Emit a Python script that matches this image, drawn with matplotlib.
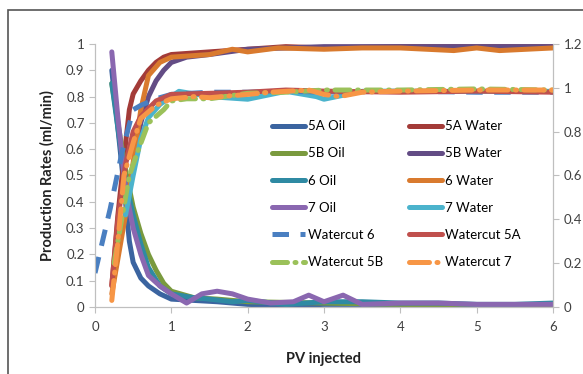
import numpy as np
import matplotlib.pyplot as plt
from matplotlib.patches import Rectangle

plt.rcParams['font.family'] = ['Lato', 'DejaVu Sans']

# oil rates (left axis)
x_5a_oil = [0.22, 0.3, 0.4, 0.45, 0.5, 0.6, 0.7, 0.85, 1.0, 1.3, 1.6, 2.0, 2.5, 3.0, 4.0, 5.0, 6.0]
y_5a_oil = [0.90, 0.68, 0.40, 0.25, 0.17, 0.11, 0.08, 0.05, 0.03, 0.025, 0.02, 0.01, 0.005, 0.01, 0.01, 0.005, 0.01]
x_5b_oil = [0.22, 0.3, 0.4, 0.5, 0.6, 0.7, 0.8, 0.9, 1.0, 1.3, 1.6, 2.0, 3.0, 4.0, 5.0, 6.0]
y_5b_oil = [0.85, 0.70, 0.52, 0.38, 0.28, 0.20, 0.14, 0.09, 0.06, 0.035, 0.03, 0.02, 0.015, 0.01, 0.005, 0.005]
x_6_oil = [0.22, 0.3, 0.4, 0.5, 0.6, 0.7, 0.85, 1.0, 1.3, 1.5, 1.8, 2.0, 2.5, 3.0, 3.5, 4.0, 4.5, 5.0, 5.5, 6.0]
y_6_oil = [0.85, 0.68, 0.48, 0.35, 0.24, 0.15, 0.08, 0.05, 0.035, 0.03, 0.02, 0.025, 0.01, 0.02, 0.02, 0.015, 0.015, 0.01, 0.01, 0.015]
x_7_oil = [0.22, 0.3, 0.4, 0.5, 0.6, 0.7, 0.85, 1.0, 1.2, 1.4, 1.6, 1.8, 2.0, 2.3, 2.6, 2.8, 3.0, 3.25, 3.5, 4.0, 4.5, 5.0, 5.5, 6.0]
y_7_oil = [0.97, 0.72, 0.45, 0.30, 0.20, 0.12, 0.08, 0.05, 0.015, 0.05, 0.06, 0.05, 0.03, 0.015, 0.02, 0.045, 0.02, 0.045, 0.01, 0.015, 0.015, 0.01, 0.01, 0.01]

# water rates (left axis)
x_5a_wat = [0.22, 0.3, 0.4, 0.45, 0.5, 0.6, 0.7, 0.8, 0.9, 1.0, 1.5, 2.0, 2.5, 3.0, 4.0, 5.0, 6.0]
y_5a_wat = [0.08, 0.35, 0.62, 0.75, 0.81, 0.86, 0.90, 0.93, 0.95, 0.96, 0.97, 0.98, 0.99, 0.985, 0.99, 0.99, 0.99]
x_5b_wat = [0.45, 0.55, 0.6, 0.7, 0.8, 0.9, 1.0, 1.2, 1.5, 2.0, 2.5, 3.0, 4.0, 5.0, 6.0]
y_5b_wat = [0.45, 0.62, 0.70, 0.80, 0.86, 0.90, 0.93, 0.95, 0.96, 0.98, 0.985, 0.99, 0.99, 0.99, 0.99]
x_6_wat = [0.22, 0.4, 0.5, 0.6, 0.7, 0.85, 1.0, 1.5, 1.8, 2.0, 2.4, 3.0, 3.5, 4.0, 4.7, 5.0, 5.3, 6.0]
y_6_wat = [0.05, 0.35, 0.55, 0.75, 0.88, 0.93, 0.95, 0.96, 0.98, 0.97, 0.985, 0.98, 0.985, 0.985, 0.975, 0.985, 0.975, 0.985]
x_7_wat = [0.4, 0.5, 0.6, 0.7, 0.85, 1.0, 1.1, 1.5, 2.0, 2.5, 2.9, 3.0, 3.5, 4.0, 5.0, 6.0]
y_7_wat = [0.35, 0.50, 0.64, 0.72, 0.77, 0.80, 0.82, 0.80, 0.79, 0.82, 0.80, 0.79, 0.82, 0.82, 0.82, 0.82]

# watercut (right axis)
x_wc6 = [0.0, 0.2, 0.35, 0.5, 0.6, 0.8, 1.0, 1.5, 2.0, 2.5, 3.0, 4.0, 5.0, 6.0]
y_wc6 = [0.155, 0.45, 0.70, 0.90, 0.92, 0.95, 0.97, 0.98, 0.98, 0.985, 0.98, 0.985, 0.98, 0.98]
x_wc5a = [0.22, 0.3, 0.4, 0.5, 0.6, 0.8, 1.0, 1.5, 2.0, 2.5, 3.0, 4.0, 5.0, 6.0]
y_wc5a = [0.10, 0.40, 0.65, 0.80, 0.87, 0.94, 0.97, 0.975, 0.98, 0.99, 0.985, 0.98, 0.985, 0.98]
x_wc5b = [0.25, 0.35, 0.45, 0.55, 0.7, 0.9, 1.0, 1.2, 1.5, 2.0, 2.5, 3.0, 3.5, 4.0, 5.0, 6.0]
y_wc5b = [0.20, 0.40, 0.60, 0.70, 0.84, 0.90, 0.94, 0.95, 0.95, 0.975, 0.98, 0.99, 0.99, 0.99, 0.995, 0.99]
x_wc7 = [0.22, 0.3, 0.38, 0.5, 0.6, 0.8, 1.0, 1.3, 1.5, 2.0, 2.3, 2.8, 3.0, 3.2, 3.5, 4.0, 5.0, 6.0]
y_wc7 = [0.03, 0.30, 0.60, 0.75, 0.86, 0.92, 0.95, 0.96, 0.955, 0.97, 0.98, 0.99, 0.97, 0.96, 0.98, 0.985, 0.99, 0.99]

fig = plt.figure(figsize=(5.83, 3.74), dpi=100)
ax = fig.add_axes([95/583, 1-307/374, 458/583, 263/374])
ax2 = ax.twinx()

lw = 3.6
kw = dict(lw=lw, solid_capstyle='round', dash_capstyle='round', solid_joinstyle='round')
l1, = ax.plot(x_5a_oil, y_5a_oil, color='#3b64a0', label='5A Oil', **kw)
l2, = ax.plot(x_5a_wat, y_5a_wat, color='#a33b38', label='5A Water', **kw)
l3, = ax.plot(x_5b_oil, y_5b_oil, color='#7a9a3e', label='5B Oil', **kw)
l4, = ax.plot(x_5b_wat, y_5b_wat, color='#634c85', label='5B Water', **kw)
l5, = ax.plot(x_6_oil, y_6_oil, color='#2f8aa3', label='6 Oil', **kw)
l6, = ax.plot(x_6_wat, y_6_wat, color='#d97a2e', label='6 Water', **kw)
l7, = ax.plot(x_7_oil, y_7_oil, color='#8a67b0', label='7 Oil', **kw)
l8, = ax.plot(x_7_wat, y_7_wat, color='#4bb3cc', label='7 Water', **kw)
l9, = ax2.plot(x_wc6, y_wc6, color='#4a7fc1', ls=(0, (3.3, 2.3)), lw=lw, dash_capstyle='butt', label='Watercut 6')
l10, = ax2.plot(x_wc5a, y_wc5a, color='#c0504d', label='Watercut 5A', **kw)
l11, = ax2.plot(x_wc5b, y_wc5b, color='#9bc15a', ls=(0, (3, 1.5, 0.2, 1.5)), label='Watercut 5B', lw=lw, dash_capstyle='round')
l12, = ax2.plot(x_wc7, y_wc7, color='#f79646', ls=(0, (4, 1.5, 0.2, 1.5)), label='Watercut 7', lw=lw, dash_capstyle='round')

ax.set_xlim(0, 6)
ax.set_ylim(0, 1)
ax2.set_ylim(0, 1.2)
ax.set_xticks(range(7))
ax.set_yticks(np.arange(0, 1.01, 0.1))
ax.set_yticklabels(['0'] + ['%.1f' % v for v in np.arange(0.1, 0.95, 0.1)] + ['1'])
ax2.set_yticks(np.arange(0, 1.21, 0.2))
ax2.set_yticklabels(['0', '0.2', '0.4', '0.6', '0.8', '1', '1.2'])

for a in (ax, ax2):
    for s in a.spines.values():
        s.set_color('#bfbfbf')
    a.spines['top'].set_visible(False)
    a.tick_params(colors='#bfbfbf', labelcolor='#404040', labelsize=9.5, length=4, width=0.8)
ax.tick_params(axis='x', pad=6)

ax.set_ylabel('Production Rates (ml/min)', fontsize=10.5, fontweight='bold', color='#222222', labelpad=8)
ax.set_xlabel('PV injected', fontsize=10.5, fontweight='bold', color='#222222', labelpad=14)

# legend reads row by row: oil / water pairs, matplotlib fills columns first
col1 = [l1, l3, l5, l7, l9, l11]
col2 = [l2, l4, l6, l8, l10, l12]
ax.legend(handles=col1 + col2, ncol=2, frameon=False, fontsize=9.5, loc='upper left',
          bbox_to_anchor=(0.375, 0.73), handlelength=2.5, handletextpad=0.2,
          columnspacing=2.0, labelspacing=1.15, borderaxespad=0)

fig.patches.append(Rectangle((8/583, -0.05), 1.1, 1-10/374+0.05, transform=fig.transFigure,
                             fill=False, edgecolor='#555555', lw=1.2))

fig.savefig('out.png', dpi=100)
